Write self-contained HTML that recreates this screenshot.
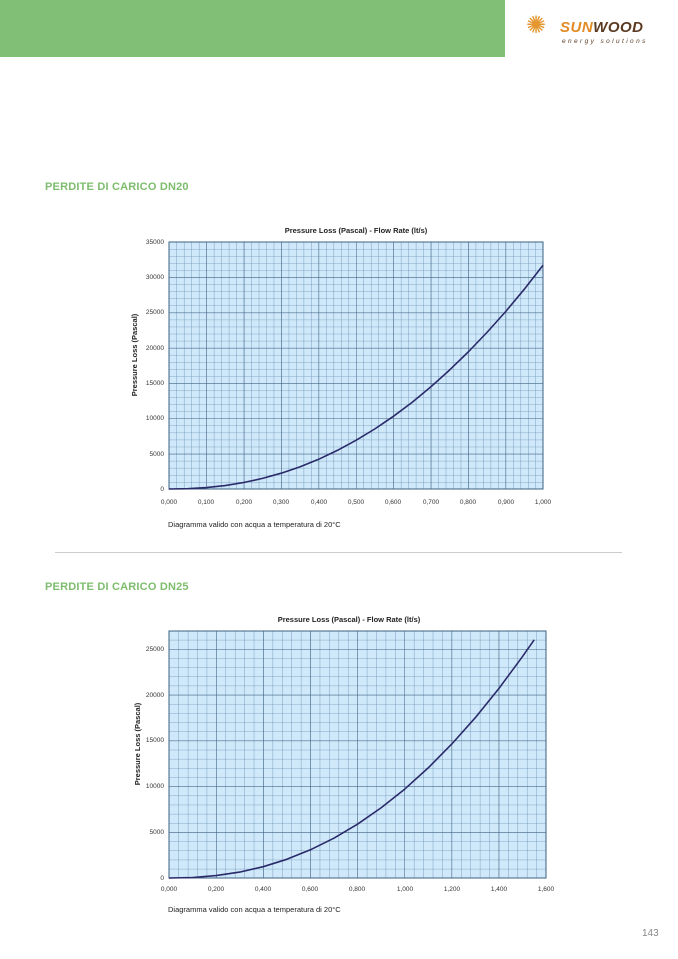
<!DOCTYPE html>
<html><head><meta charset="utf-8"><style>
body{margin:0;width:678px;height:959px;background:#fff;position:relative;overflow:hidden;font-family:"Liberation Sans",sans-serif}
.hdr{position:absolute;left:0;top:0;width:505px;height:57px;background:#80bf75}
.h{position:absolute;left:45px;font-weight:bold;font-size:11px;color:#7dbd6d;letter-spacing:0.2px}
svg{position:absolute;left:0;top:0}
</style></head><body>
<div class="hdr"></div>
<div style="position:absolute;left:526px;top:14px;font-size:24px;line-height:24px;color:#e5962e;">✺</div>
<div style="position:absolute;left:560px;top:19px;font-size:15px;font-weight:bold;font-style:italic;color:#e38b24;letter-spacing:0.5px">SUN<span style="color:#5a3a22">WOOD</span></div>
<div style="position:absolute;left:562px;top:38px;font-size:6.5px;font-style:italic;color:#5a3a22;letter-spacing:2.4px">energy solutions</div>
<div class="h" style="top:181px">PERDITE DI CARICO DN20</div>
<div class="h" style="top:581px">PERDITE DI CARICO DN25</div>
<div style="position:absolute;left:55px;top:552px;width:567px;height:1px;background:#ccc"></div>
<div style="position:absolute;left:642px;top:928px;font-size:10px;color:#888">143</div>
<svg width="678" height="959" font-family="Liberation Sans, sans-serif">
<defs>
<pattern id="m1" x="169" y="242" width="7.48" height="7.06" patternUnits="userSpaceOnUse"><path d="M0 0V7.06M0 0H7.48" stroke="#6a8eb0" stroke-width="0.8" fill="none"/></pattern>
<pattern id="M1" x="169" y="242" width="37.4" height="35.3" patternUnits="userSpaceOnUse"><path d="M0 0V35.3M0 0H37.4" stroke="#3e5f80" stroke-width="1" fill="none"/></pattern>
<pattern id="m2" x="169" y="878" width="9.42" height="9.16" patternUnits="userSpaceOnUse"><path d="M0 0V9.16M0 0H9.42" stroke="#6a8eb0" stroke-width="0.8" fill="none"/></pattern>
<pattern id="M2" x="169" y="878" width="47.1" height="45.8" patternUnits="userSpaceOnUse"><path d="M0 0V45.8M0 0H47.1" stroke="#3e5f80" stroke-width="1" fill="none"/></pattern>
</defs>
<!-- chart 1 -->
<text x="356" y="233" font-size="7.5" font-weight="bold" text-anchor="middle" fill="#222">Pressure Loss (Pascal) - Flow Rate (lt/s)</text>
<rect x="169" y="242" width="374" height="247" fill="#cfe9fa"/>
<rect x="169" y="242" width="374" height="247" fill="url(#m1)"/>
<rect x="169" y="242" width="374" height="247" fill="url(#M1)"/>
<rect x="169" y="242" width="374" height="247" fill="none" stroke="#3e5f80"/>
<g font-size="6.5" fill="#333" text-anchor="end">
<text x="164" y="491">0</text><text x="164" y="456">5000</text><text x="164" y="420">10000</text><text x="164" y="385">15000</text><text x="164" y="350">20000</text><text x="164" y="314">25000</text><text x="164" y="279">30000</text><text x="164" y="244">35000</text>
</g>
<g font-size="6.5" fill="#333" text-anchor="middle">
<text x="169" y="504">0,000</text><text x="206" y="504">0,100</text><text x="244" y="504">0,200</text><text x="281" y="504">0,300</text><text x="319" y="504">0,400</text><text x="356" y="504">0,500</text><text x="393" y="504">0,600</text><text x="431" y="504">0,700</text><text x="468" y="504">0,800</text><text x="506" y="504">0,900</text><text x="543" y="504">1,000</text>
</g>
<text transform="translate(137,355) rotate(-90)" font-size="7.5" font-weight="bold" text-anchor="middle" fill="#222">Pressure Loss (Pascal)</text>
<text x="168" y="527" font-size="7.5" fill="#222">Diagramma valido con acqua a temperatura di 20°C</text>
<polyline fill="none" stroke="#2a2a6a" stroke-width="1.6" stroke-linejoin="round" points="169,489 187.7,488.7 206.4,487.6 225.1,485.6 243.8,482.5 262.5,478.4 281.2,473.2 299.9,466.9 318.6,459.3 337.3,450.4 356,440.3 374.7,429 393.4,416.3 412.1,402.4 430.8,386.9 449.5,370.1 468.2,352 486.9,332.5 505.6,311.6 524.3,289.2 543,265.3"/>
<!-- chart 2 -->
<text x="349" y="622" font-size="7.5" font-weight="bold" text-anchor="middle" fill="#222">Pressure Loss (Pascal) - Flow Rate (lt/s)</text>
<rect x="169" y="631" width="377" height="247" fill="#cfe9fa"/>
<rect x="169" y="631" width="377" height="247" fill="url(#m2)"/>
<rect x="169" y="631" width="377" height="247" fill="url(#M2)"/>
<rect x="169" y="631" width="377" height="247" fill="none" stroke="#3e5f80"/>
<g font-size="6.5" fill="#333" text-anchor="end">
<text x="164" y="880">0</text><text x="164" y="834">5000</text><text x="164" y="788">10000</text><text x="164" y="742">15000</text><text x="164" y="697">20000</text><text x="164" y="651">25000</text>
</g>
<g font-size="6.5" fill="#333" text-anchor="middle">
<text x="169" y="891">0,000</text><text x="216" y="891">0,200</text><text x="263" y="891">0,400</text><text x="310" y="891">0,600</text><text x="357" y="891">0,800</text><text x="405" y="891">1,000</text><text x="452" y="891">1,200</text><text x="499" y="891">1,400</text><text x="546" y="891">1,600</text>
</g>
<text transform="translate(140,744) rotate(-90)" font-size="7.5" font-weight="bold" text-anchor="middle" fill="#222">Pressure Loss (Pascal)</text>
<text x="168" y="912" font-size="7.5" fill="#222">Diagramma valido con acqua a temperatura di 20°C</text>
<polyline fill="none" stroke="#2a2a6a" stroke-width="1.6" stroke-linejoin="round" points="169,878 192.6,877.5 216.1,875.6 239.7,872.1 263.2,866.7 286.8,859.3 310.4,849.8 333.9,838.2 357.5,824.2 381,807.9 404.6,789.2 428.2,767.9 451.7,744.1 475.3,717.7 498.8,688.6 522.4,656.7 534.2,639.8"/>
</svg>
</body></html>
